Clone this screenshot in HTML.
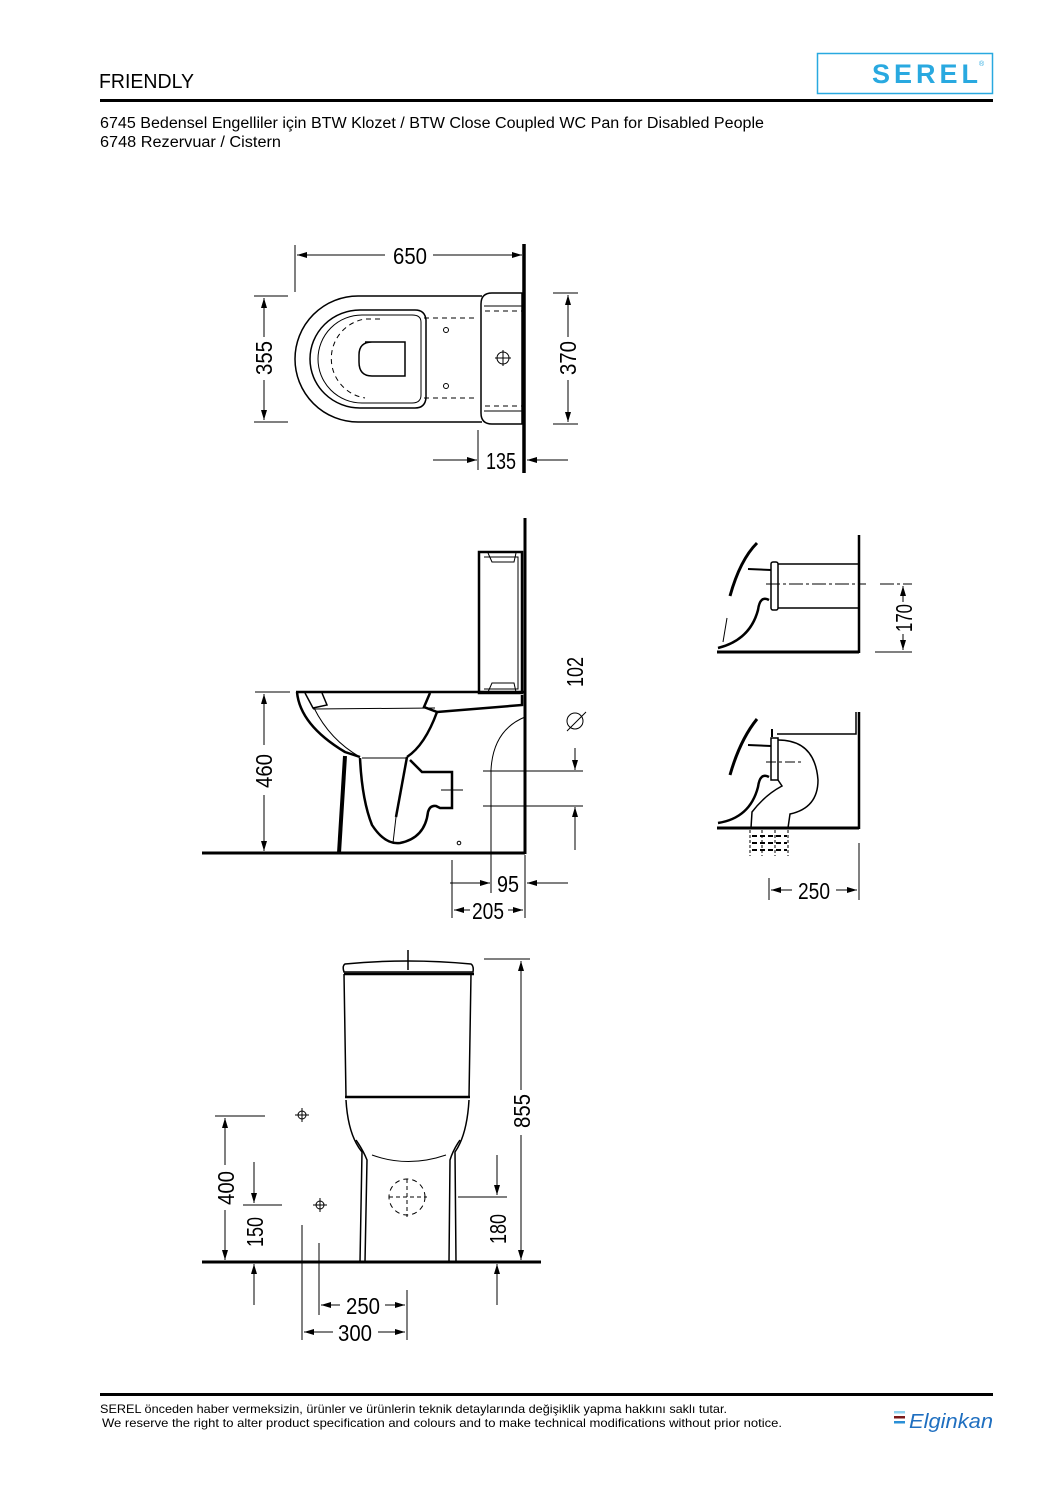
<!DOCTYPE html>
<html><head><meta charset="utf-8"><style>
html,body{margin:0;padding:0;background:#fff}
body{width:1058px;height:1497px;position:relative;overflow:hidden;font-family:"Liberation Sans",sans-serif}
</style></head><body>
<svg width="1058" height="1497" viewBox="0 0 1058 1497" xmlns="http://www.w3.org/2000/svg">
<defs>
<marker id="a" viewBox="0 0 10 6" refX="10" refY="3" markerWidth="10" markerHeight="6" markerUnits="userSpaceOnUse" orient="auto"><path d="M0,0 L10,3 L0,6z" fill="#000"/></marker>
</defs>
<style>
.t{font-family:"Liberation Sans",sans-serif;fill:#000}
.d{font-family:"Liberation Sans",sans-serif;font-size:23px;fill:#000}
.l{stroke:#000;stroke-width:1;fill:none}
.k{stroke:#000;stroke-width:2.5;fill:none}
.m{stroke:#000;stroke-width:1.5;fill:none}
.ds{stroke:#000;stroke-width:1;fill:none;stroke-dasharray:5 4}
</style>
<!-- header -->
<text x="99" y="88" class="t" font-size="20" textLength="95" lengthAdjust="spacingAndGlyphs">FRIENDLY</text>
<rect x="817.5" y="53.5" width="175" height="40" fill="none" stroke="#29a9e0" stroke-width="1.5"/>
<text x="872" y="83" font-family="Liberation Sans,sans-serif" font-weight="bold" font-size="27" fill="#29a9e0" textLength="106" lengthAdjust="spacing">SEREL</text>
<text x="979" y="66" font-size="7" fill="#29a9e0" font-family="Liberation Sans,sans-serif">®</text>
<rect x="100" y="99" width="893" height="3" fill="#000"/>
<text x="100" y="128" class="t" font-size="15.5" textLength="664" lengthAdjust="spacingAndGlyphs">6745 Bedensel Engelliler için BTW Klozet / BTW Close Coupled WC Pan for Disabled People</text>
<text x="100" y="147" class="t" font-size="15.5" textLength="181" lengthAdjust="spacingAndGlyphs">6748 Rezervuar / Cistern</text>

<!-- TOP VIEW -->
<line x1="524" y1="244" x2="524" y2="473" stroke="#000" stroke-width="3.5"/>
<line x1="295" y1="245" x2="295" y2="292" class="l"/>
<line x1="385" y1="255" x2="297" y2="255" class="l" marker-end="url(#a)"/>
<line x1="433" y1="255" x2="522" y2="255" class="l" marker-end="url(#a)"/>
<text x="410" y="264" class="d" text-anchor="middle" textLength="34" lengthAdjust="spacingAndGlyphs">650</text>
<path d="M482,296 L358,296 A63,63 0 0 0 358,422 L482,422" class="m"/>
<path d="M492,293 L522,293 L522,424 L492,424 Q481,424 481,413 L481,304 Q481,293 492,293Z" class="m"/>
<path d="M484,306 L524,306 M484,411 L524,411" class="l"/>
<line x1="485" y1="311" x2="524" y2="311" class="ds"/>
<line x1="485" y1="406" x2="524" y2="406" class="ds"/>
<path d="M415,310 L360,310 A50,49 0 0 0 360,408 L415,408 Q425,408 426,398 L426,320 Q425,310 415,310Z" class="m"/>
<path d="M412,315 L362,315 A44,44 0 0 0 362,403 L412,403 Q421,403 421,395 L421,322 Q421,315 412,315Z" class="l"/>
<path d="M424,318 L478,318 M424,398 L478,398" class="ds"/>
<path d="M380,319 L365,319 A40,40 0 0 0 365,398" class="ds"/>
<path d="M365,342 L405,342 L405,376 L372,376 Q359,376 359,362 L359,355 Q359,342 372,342Z" class="m"/>
<circle cx="446" cy="330" r="2.5" class="l"/><circle cx="446" cy="386" r="2.5" class="l"/>
<circle cx="503" cy="358" r="6" class="l"/><path d="M495,358 H511 M503,350 V366" class="l"/>
<path d="M254,296 H288 M254,422 H288" class="l"/>
<line x1="264" y1="337" x2="264" y2="298" class="l" marker-end="url(#a)"/>
<line x1="264" y1="380" x2="264" y2="420" class="l" marker-end="url(#a)"/>
<text transform="translate(272,358) rotate(-90)" class="d" text-anchor="middle" textLength="34" lengthAdjust="spacingAndGlyphs">355</text>
<path d="M553,293 H578 M553,424 H578" class="l"/>
<line x1="568" y1="337" x2="568" y2="295" class="l" marker-end="url(#a)"/>
<line x1="568" y1="380" x2="568" y2="422" class="l" marker-end="url(#a)"/>
<text transform="translate(576,358) rotate(-90)" class="d" text-anchor="middle" textLength="34" lengthAdjust="spacingAndGlyphs">370</text>
<line x1="478" y1="430" x2="478" y2="470" class="l"/>
<line x1="433" y1="460" x2="477" y2="460" class="l" marker-end="url(#a)"/>
<line x1="568" y1="460" x2="527" y2="460" class="l" marker-end="url(#a)"/>
<text x="501" y="469" class="d" text-anchor="middle" textLength="30" lengthAdjust="spacingAndGlyphs">135</text>

<!-- SIDE VIEW -->
<line x1="525" y1="518" x2="525" y2="854" stroke="#000" stroke-width="3"/>
<line x1="202" y1="853" x2="525" y2="853" stroke="#000" stroke-width="3"/>
<path d="M479,552 L522,552 L522,693 L479,693 Z" class="k"/>
<path d="M484,557 L518,557 L518,689 L484,689" class="l"/>
<path d="M488,553 L492,562 L514,562 L516,553" class="l"/>
<path d="M488,692 L492,683 L514,683 L516,692" class="l"/>
<path d="M296,692 L525,692" class="k"/>
<path d="M297,692 Q300,725 345,752 L360,757" class="k"/>
<path d="M305,693 L313,708 L327,705 L322,693" class="m"/>
<path d="M314,708 Q330,740 360,757" class="l"/>
<path d="M313,709 L435,708" class="l"/>
<path d="M430,693 L424,707 L437,712 Q425,745 407,757" class="k"/>
<path d="M437,712 L522,705 L522,695" class="k"/>
<path d="M345,756 L339,853" stroke="#000" stroke-width="4" fill="none"/>
<path d="M360,758 Q362,800 372,825 Q385,845 400,843 Q425,838 428,812 Q430,805 436,806 L440,808 L452,808 L452,772 L422,772 L410,760" class="k"/>
<path d="M407,757 L396,817" class="k"/>
<path d="M362,758 L407,758" class="l"/>
<path d="M396,817 L393,843" class="l"/>
<path d="M441,790 H463 M452,782 V798" class="l"/>
<circle cx="459" cy="843" r="1.8" class="l"/>
<path d="M525,717 Q493,730 491,770 L491,893" class="l"/>
<path d="M483,771 H583 M483,806 H583" class="l"/>
<line x1="575" y1="748" x2="575" y2="770" class="l" marker-end="url(#a)"/>
<line x1="575" y1="850" x2="575" y2="807" class="l" marker-end="url(#a)"/>
<text transform="translate(583,672) rotate(-90)" class="d" text-anchor="middle" textLength="30" lengthAdjust="spacingAndGlyphs">102</text>
<circle cx="575" cy="721" r="8" class="l"/><line x1="567" y1="731" x2="586" y2="712" class="l"/>
<path d="M255,692 H290" class="l"/>
<line x1="264" y1="745" x2="264" y2="694" class="l" marker-end="url(#a)"/>
<line x1="264" y1="795" x2="264" y2="851" class="l" marker-end="url(#a)"/>
<text transform="translate(272,771) rotate(-90)" class="d" text-anchor="middle" textLength="34" lengthAdjust="spacingAndGlyphs">460</text>
<line x1="452" y1="860" x2="452" y2="918" class="l"/>
<line x1="450" y1="883" x2="490" y2="883" class="l" marker-end="url(#a)"/>
<line x1="568" y1="883" x2="527" y2="883" class="l" marker-end="url(#a)"/>
<text x="508" y="892" class="d" text-anchor="middle" textLength="22" lengthAdjust="spacingAndGlyphs">95</text>
<line x1="470" y1="910" x2="454" y2="910" class="l" marker-end="url(#a)"/>
<line x1="508" y1="910" x2="523" y2="910" class="l" marker-end="url(#a)"/>
<text x="488" y="919" class="d" text-anchor="middle" textLength="32" lengthAdjust="spacingAndGlyphs">205</text>
<line x1="525" y1="855" x2="525" y2="918" class="l"/>

<!-- RIGHT DETAILS upper -->
<line x1="859" y1="535" x2="859" y2="653" stroke="#000" stroke-width="2.5"/>
<line x1="717" y1="652" x2="859" y2="652" stroke="#000" stroke-width="3"/>
<path d="M778,564 L858,564 M778,608 L858,608" class="m"/>
<rect x="771" y="562" width="7" height="48" rx="2" class="m"/>
<path d="M766,584 H866 M880,584 H912" stroke="#000" stroke-width="1" stroke-dasharray="14 3 3 3" fill="none"/>
<path d="M757,543 Q740,560 730,596" stroke="#000" stroke-width="3" fill="none"/>
<path d="M748,569 L771,570" stroke="#000" stroke-width="2" fill="none"/>
<path d="M769,600 Q760,595 758,610 Q750,640 718,648" stroke="#000" stroke-width="2.5" fill="none"/>
<path d="M727,618 L723,642" class="l"/>
<path d="M875,652 H912" class="l"/>
<line x1="903" y1="602" x2="903" y2="586" class="l" marker-end="url(#a)"/>
<line x1="903" y1="634" x2="903" y2="650" class="l" marker-end="url(#a)"/>
<text transform="translate(912,618) rotate(-90)" class="d" text-anchor="middle" textLength="28" lengthAdjust="spacingAndGlyphs">170</text>
<!-- lower -->
<path d="M859,712 L859,829" stroke="#000" stroke-width="2.5" fill="none"/>
<path d="M856,712 L856,734 L777,734" class="m"/>
<line x1="717" y1="828" x2="859" y2="828" stroke="#000" stroke-width="3"/>
<rect x="771" y="738" width="7" height="42" class="m"/>
<path d="M772,737 V729" stroke="#000" stroke-width="2"/>
<path d="M778,740 Q815,740 818,780 Q818,808 790,814 L788,828 M751,828 L752,812 Q765,795 782,786 L778,780" class="m"/>
<path d="M766,762 H802" stroke="#000" stroke-width="1" stroke-dasharray="10 3 3 3" fill="none"/>
<path d="M757,719 Q740,740 730,775" stroke="#000" stroke-width="3" fill="none"/>
<path d="M748,745 L771,746" stroke="#000" stroke-width="2" fill="none"/>
<path d="M769,777 Q760,772 758,787 Q750,818 718,823" stroke="#000" stroke-width="2.5" fill="none"/>
<path d="M750,830 V856 M762,830 V856 M775,830 V856 M788,830 V856" stroke="#000" stroke-width="1" stroke-dasharray="3 2" fill="none"/>
<path d="M752,836 H787 M752,843 H787 M752,850 H787" stroke="#000" stroke-width="2" stroke-dasharray="5 3" fill="none"/>
<line x1="769" y1="878" x2="769" y2="900" class="l"/>
<line x1="859" y1="843" x2="859" y2="900" class="l"/>
<line x1="792" y1="890" x2="771" y2="890" class="l" marker-end="url(#a)"/>
<line x1="836" y1="890" x2="857" y2="890" class="l" marker-end="url(#a)"/>
<text x="814" y="899" class="d" text-anchor="middle" textLength="32" lengthAdjust="spacingAndGlyphs">250</text>

<!-- FRONT VIEW -->
<line x1="202" y1="1262" x2="541" y2="1262" stroke="#000" stroke-width="3"/>
<path d="M345,964 Q408,958 471,964 Q474,966 473,972 L344,972 Q342,966 345,964Z" class="m"/>
<path d="M408,950 V970" class="m"/>
<path d="M344,974 L474,974" class="k"/>
<path d="M344,974 L346,1097 M471,974 L469,1097" class="m"/>
<path d="M345,1097 L470,1097" stroke="#000" stroke-width="2.5"/>
<path d="M346,1100 Q348,1135 362,1152 L360,1262 M469,1100 Q467,1135 455,1152 L456,1262" class="m"/>
<path d="M356,1140 Q363,1150 367,1160 L365,1262 M460,1140 Q453,1150 450,1160 L449,1262" class="m"/>
<path d="M372,1155 Q408,1168 446,1155" class="l"/>
<circle cx="407" cy="1197" r="18" class="ds"/>
<path d="M389,1197 H427 M407,1179 V1217" stroke="#000" stroke-width="1" stroke-dasharray="4 3"/>
<circle cx="302" cy="1115" r="4" class="l"/><path d="M295,1115 H309 M302,1108 V1122" class="l"/>
<circle cx="320" cy="1205" r="4" class="l"/><path d="M313,1205 H327 M320,1198 V1212" class="l"/>
<path d="M484,959 H530" class="l"/>
<line x1="521" y1="1090" x2="521" y2="961" class="l" marker-end="url(#a)"/>
<line x1="521" y1="1135" x2="521" y2="1260" class="l" marker-end="url(#a)"/>
<text transform="translate(530,1111) rotate(-90)" class="d" text-anchor="middle" textLength="34" lengthAdjust="spacingAndGlyphs">855</text>
<path d="M215,1116 H265" class="l"/>
<line x1="225" y1="1165" x2="225" y2="1118" class="l" marker-end="url(#a)"/>
<line x1="225" y1="1210" x2="225" y2="1260" class="l" marker-end="url(#a)"/>
<text transform="translate(234,1188) rotate(-90)" class="d" text-anchor="middle" textLength="34" lengthAdjust="spacingAndGlyphs">400</text>
<path d="M243,1205 H282" class="l"/>
<line x1="254" y1="1162" x2="254" y2="1203" class="l" marker-end="url(#a)"/>
<line x1="254" y1="1305" x2="254" y2="1264" class="l" marker-end="url(#a)"/>
<text transform="translate(263,1232) rotate(-90)" class="d" text-anchor="middle" textLength="30" lengthAdjust="spacingAndGlyphs">150</text>
<path d="M458,1197 H507" class="l"/>
<line x1="497" y1="1155" x2="497" y2="1195" class="l" marker-end="url(#a)"/>
<line x1="497" y1="1305" x2="497" y2="1264" class="l" marker-end="url(#a)"/>
<text transform="translate(506,1229) rotate(-90)" class="d" text-anchor="middle" textLength="30" lengthAdjust="spacingAndGlyphs">180</text>
<path d="M319,1243 V1315 M407,1290 V1340 M302,1225 V1340" class="l"/>
<line x1="340" y1="1305" x2="321" y2="1305" class="l" marker-end="url(#a)"/>
<line x1="385" y1="1305" x2="405" y2="1305" class="l" marker-end="url(#a)"/>
<text x="363" y="1314" class="d" text-anchor="middle" textLength="34" lengthAdjust="spacingAndGlyphs">250</text>
<line x1="333" y1="1332" x2="304" y2="1332" class="l" marker-end="url(#a)"/>
<line x1="378" y1="1332" x2="405" y2="1332" class="l" marker-end="url(#a)"/>
<text x="355" y="1341" class="d" text-anchor="middle" textLength="34" lengthAdjust="spacingAndGlyphs">300</text>

<!-- footer -->
<rect x="100" y="1393" width="893" height="3" fill="#000"/>
<text x="100" y="1413" class="t" font-size="12" textLength="627" lengthAdjust="spacingAndGlyphs">SEREL önceden haber vermeksizin, ürünler ve ürünlerin teknik detaylarında değişiklik yapma hakkını saklı tutar.</text>
<text x="102" y="1427" class="t" font-size="12" textLength="680" lengthAdjust="spacingAndGlyphs">We reserve the right to alter product specification and colours and to make technical modifications without prior notice.</text>
<rect x="894" y="1411" width="11" height="2.5" fill="#8fd3f0"/>
<rect x="894" y="1416" width="11" height="2.5" fill="#7a1a1a"/>
<rect x="894" y="1421" width="11" height="2.5" fill="#2a8fd6"/>
<text x="909" y="1428" font-family="Liberation Sans,sans-serif" font-style="italic" font-size="20" fill="#1f6fc0" textLength="84" lengthAdjust="spacingAndGlyphs">Elginkan</text>
</svg>
</body></html>
